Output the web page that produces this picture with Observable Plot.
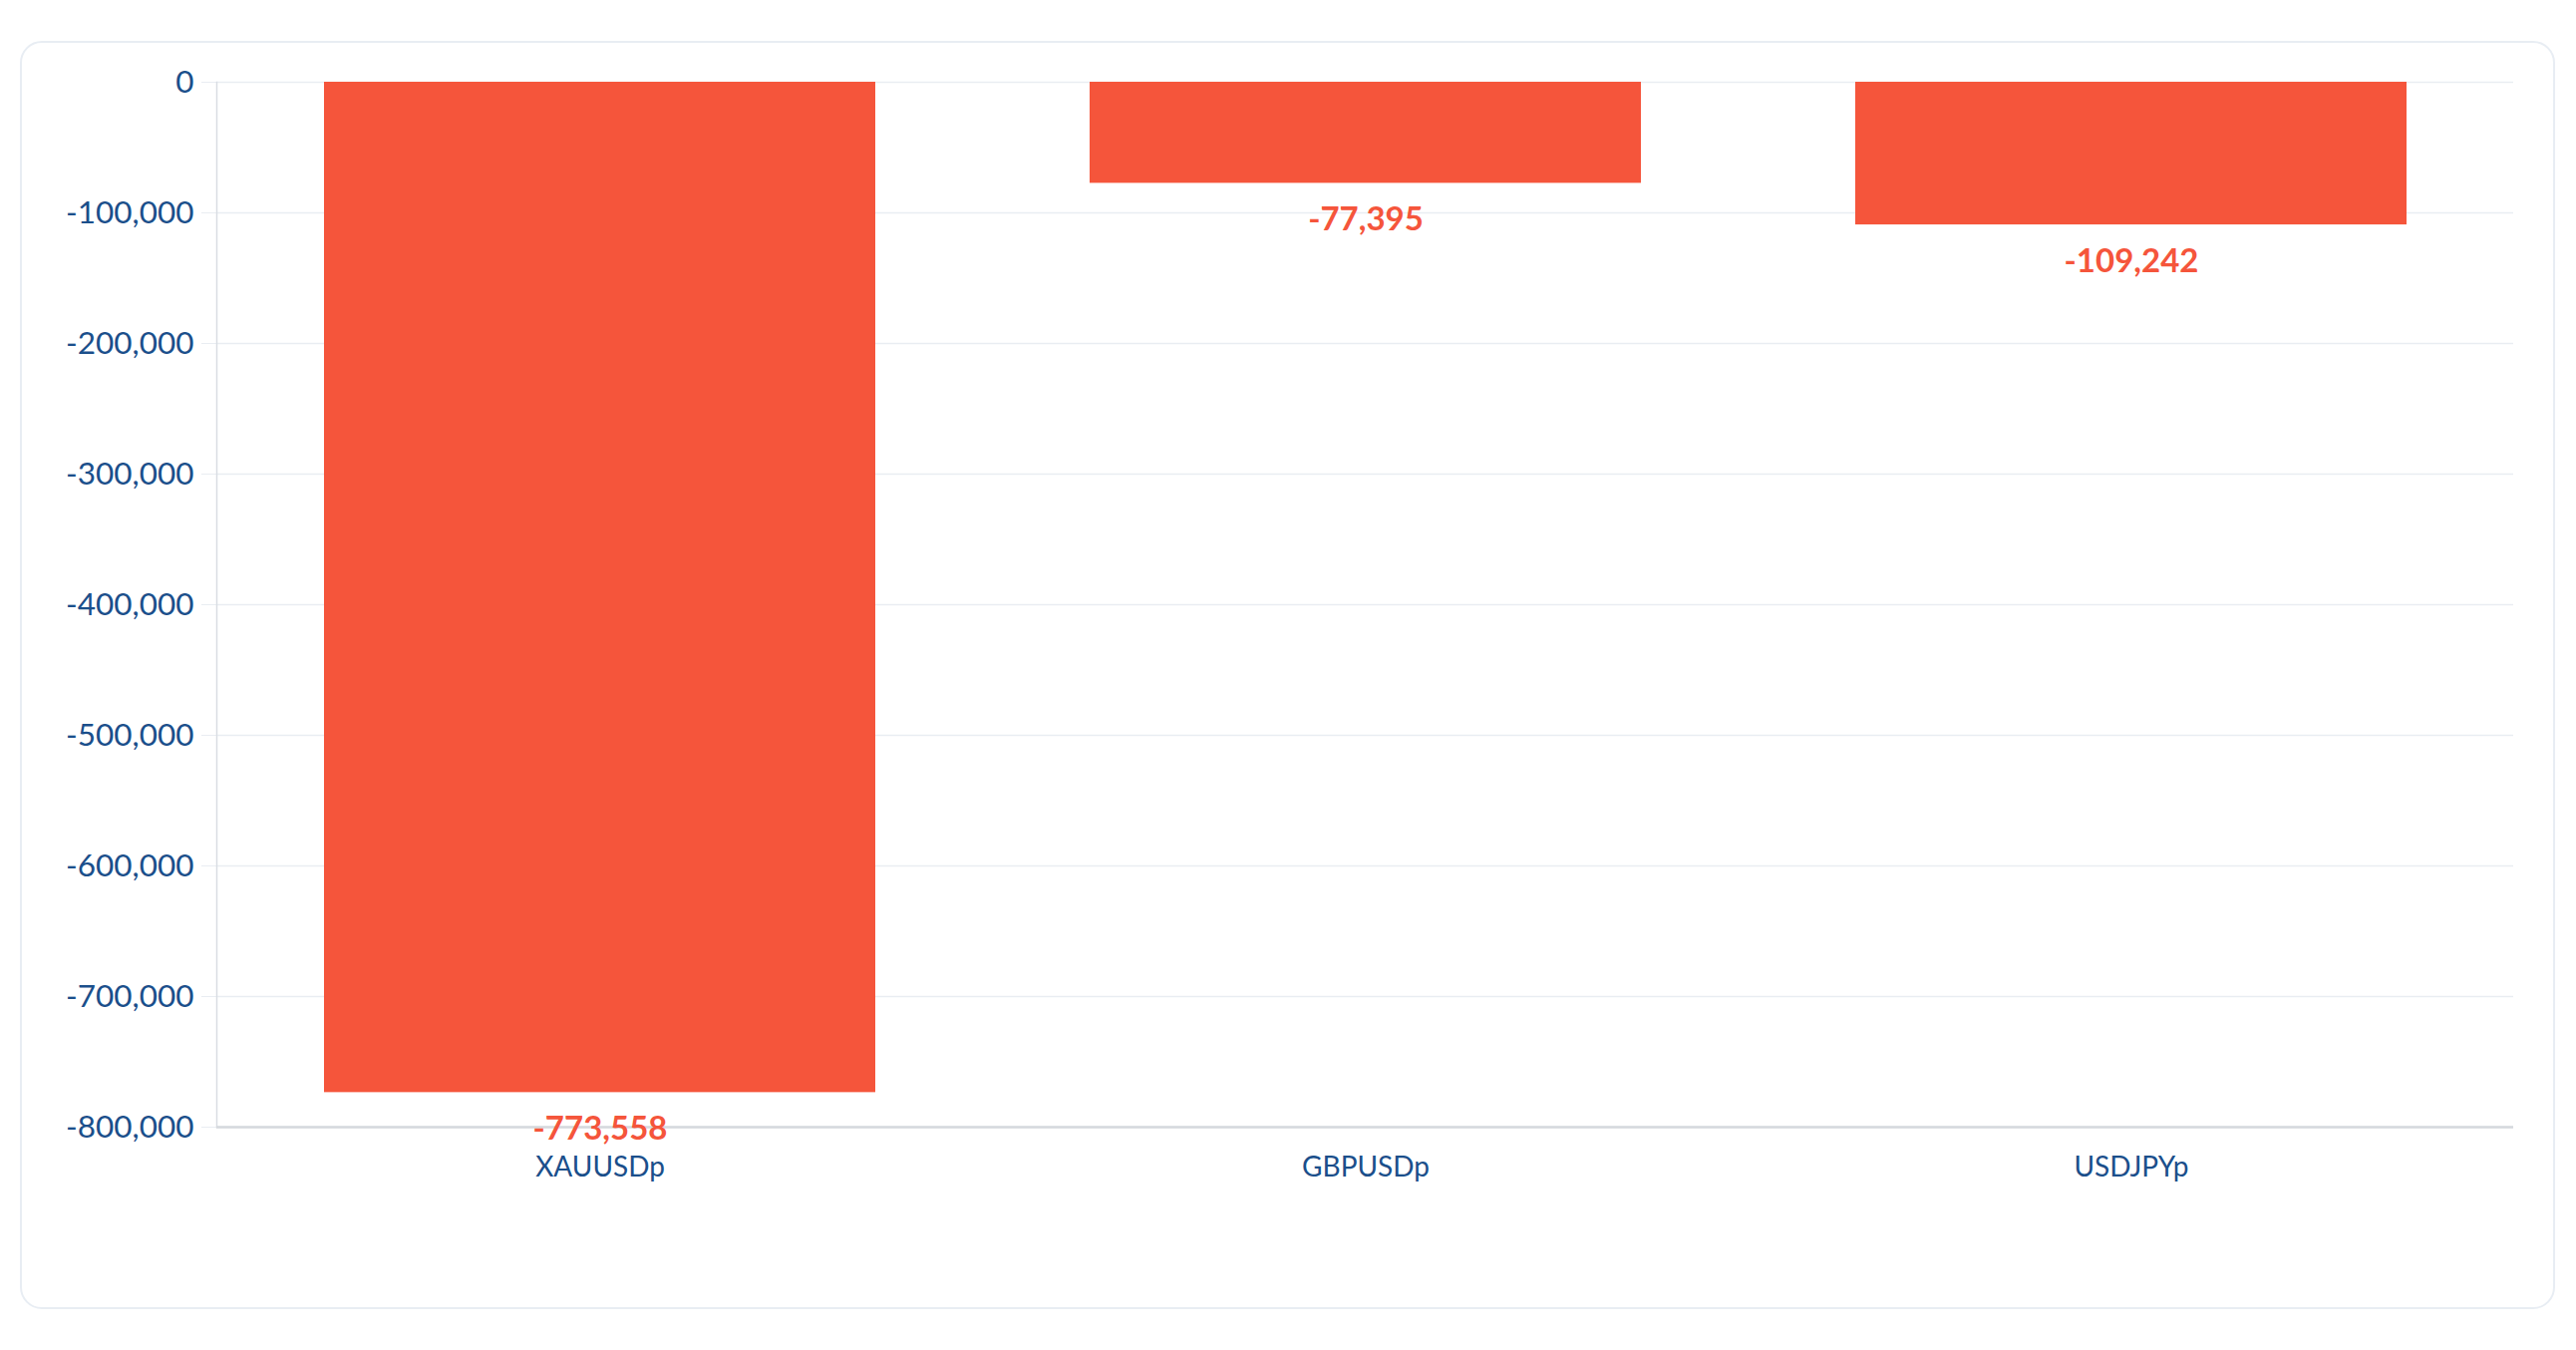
<!DOCTYPE html>
<html>
<head>
<meta charset="utf-8">
<script src="https://cdn.jsdelivr.net/npm/d3@7"></script>
<script src="https://cdn.jsdelivr.net/npm/@observablehq/plot@0.6"></script>
<style>
  html, body { margin: 0; padding: 0; background: #ffffff; }
  #wrap { position: relative; width: 2584px; height: 1354px; overflow: hidden; }
  #card { position: absolute; left: 20px; top: 41px; width: 2539px; height: 1268px;
          border: 2px solid #e8edf3; border-radius: 22px; box-sizing: content-box; }
  #chart { position: absolute; left: 0; top: 0; }
</style>
</head>
<body>
<div id="wrap">
  <div id="card"></div>
  <div id="chart"></div>
</div>
<script>
const symbols = ["XAUUSDp", "GBPUSDp", "USDJPYp"];
const values = [-773558, -77395, -109242];
const yTicks = [0, -100000, -200000, -300000, -400000, -500000, -600000, -700000, -800000];

const data = symbols.map((s, i) => ({symbol: s, value: values[i]}));
const fmt = d => d.toLocaleString("en-US");
const blue = "#1b4f8b";
const red = "#f5553b";
const font = "Lato, 'Open Sans', sans-serif";

const chart = Plot.plot({
  width: 2584,
  height: 1354,
  marginLeft: 217,
  marginRight: 63,
  marginTop: 82,
  marginBottom: 224,
  style: {fontFamily: font, background: "transparent", overflow: "visible"},
  x: {domain: symbols, paddingInner: 0.28, paddingOuter: 0.14, label: null},
  y: {domain: [-800000, 0], label: null},
  marks: [
    Plot.gridY(yTicks, {stroke: "#e9edf2", strokeOpacity: 1, strokeWidth: 1.5}),
    Plot.axisY(yTicks, {tickSize: 15, tickPadding: 8, stroke: "#e9edf2", strokeOpacity: 1, tickFormat: fmt, fill: blue, fontSize: 31.5, label: null}),
    Plot.frame({anchor: "left", stroke: "#d9dde3", strokeWidth: 1.5}),
    Plot.barY(data, {x: "symbol", y: "value", fill: red}),
    Plot.ruleY([-800000], {stroke: "#d5d8dd", strokeWidth: 2.5}),
    Plot.axisX({tickSize: 0, tickPadding: 30, fill: blue, fontSize: 28, label: null}),
    Plot.text(data, {x: "symbol", y: "value", text: d => fmt(d.value), dy: 37, fill: red, fontSize: 33, fontWeight: "bold"})
  ]
});
document.getElementById("chart").appendChild(chart);
</script>
</body>
</html>
